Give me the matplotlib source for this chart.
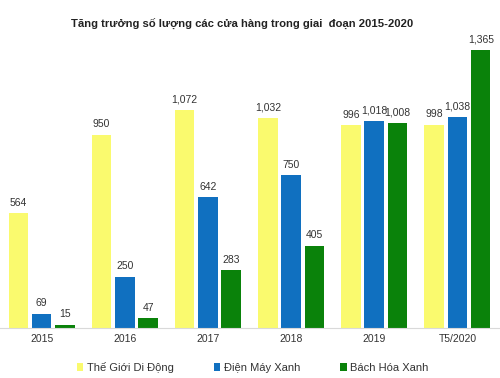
import numpy as np
import matplotlib.pyplot as plt

plt.rcParams['font.family'] = ['Liberation Sans', 'DejaVu Sans']

categories = ["2015", "2016", "2017", "2018", "2019", "T5/2020"]
series_names = ["Thế Giới Di Động", "Điện Máy Xanh", "Bách Hóa Xanh"]
tgdd = [564, 950, 1072, 1032, 996, 998]
dmx = [69, 250, 642, 750, 1018, 1038]
bhx = [15, 47, 283, 405, 1008, 1365]
colors = ["#FAFA6E", "#1070C0", "#0A820A"]

fig = plt.figure(figsize=(5, 3.78), dpi=100)
ax = fig.add_axes([0.0, 0.1323, 0.998, 0.78])

x = np.arange(len(categories))
offset = 0.28
width = 0.235
for i, (vals, name) in enumerate(zip([tgdd, dmx, bhx], series_names)):
    pos = x + (i - 1) * offset
    bars = ax.bar(pos, vals, width, color=colors[i], label=name)
    for xp, v in zip(pos, vals):
        ax.text(xp, v + 28, f"{v:,}", ha='center', va='bottom',
                fontsize=7.5, color='#333333')

ax.set_xlim(-0.5, len(categories) - 0.5)
ax.set_ylim(0, 1450)
ax.set_xticks(x)
ax.set_xticklabels(categories, fontsize=7.5, color='#333333')
ax.tick_params(axis='x', length=0, pad=4)
ax.set_yticks([])
for s in ['top', 'left', 'right']:
    ax.spines[s].set_visible(False)
ax.spines['bottom'].set_color('#d9d9d9')

fig.text(0.485, 0.934, "Tăng trưởng số lượng các cửa hàng trong giai  đoạn 2015-2020",
         ha='center', va='center', fontsize=8.1, fontweight='bold', color='#222222')

fig.legend(loc='center', bbox_to_anchor=(0.505, 0.028), ncol=3, frameon=False,
           fontsize=8, handlelength=0.6, handleheight=0.6, handletextpad=0.3,
           columnspacing=3.6, labelcolor='#333333')

fig.savefig("out.png", dpi=100)
